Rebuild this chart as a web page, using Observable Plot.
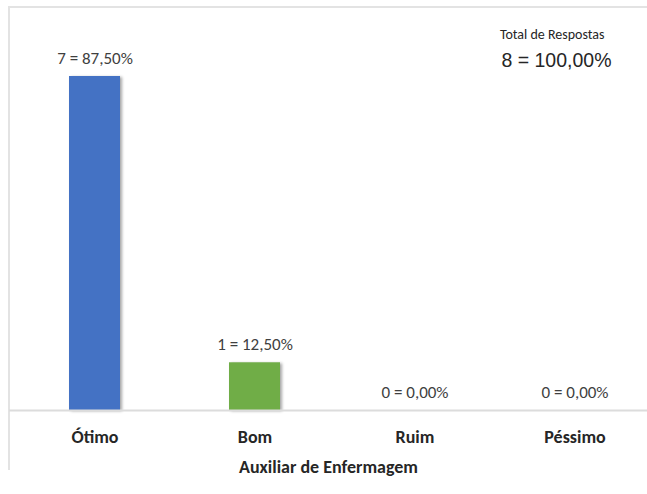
<!DOCTYPE html>
<html>
<head>
<meta charset="utf-8">
<script src="https://cdn.jsdelivr.net/npm/d3@7"></script>
<script src="https://cdn.jsdelivr.net/npm/@observablehq/plot@0.6"></script>
<style>
  html, body { margin: 0; padding: 0; background: #fff; }
  #wrap { position: relative; width: 647px; height: 494px; overflow: hidden; }
  #border { position: absolute; left: 8px; top: 6px; width: 660px; height: 464px;
            border-top: 2px solid #e3e3e3; border-left: 2px solid #e3e3e3; box-sizing: border-box; }
  #chart { position: absolute; left: 0; top: 0; }
</style>
</head>
<body>
<div id="wrap">
  <div id="border"></div>
  <div id="chart"></div>
</div>
<script>
const categories = ["Ótimo", "Bom", "Ruim", "Péssimo"];
const counts = [7, 1, 0, 0];
const colors = ["#4472C4", "#70AD47", "#A5A5A5", "#FFC000"];
const axisTitle = "Auxiliar de Enfermagem";
const totalTitle = "Total de Respostas";

const total = d3.sum(counts);
const fmtPct = v => (v / total * 100).toFixed(2).replace(".", ",") + "%";
const data = categories.map((c, i) => ({cat: c, n: counts[i], label: `${counts[i]} = ${fmtPct(counts[i])}`}));
const totalLabel = `${total} = ${fmtPct(total)}`;

const font = "Carlito, Calibri, Lato, sans-serif";

const plot = Plot.plot({
  width: 647,
  height: 494,
  marginTop: 0,
  marginLeft: 9,
  marginRight: 0,
  marginBottom: 84,
  style: {fontFamily: font, background: "transparent", overflow: "visible"},
  x: {domain: categories, range: [14, 656], paddingInner: 0.68, paddingOuter: 0.34, label: null},
  y: {domain: [0, 7], range: [410, 76], axis: null},
  color: {domain: categories, range: colors},
  marks: [
    Plot.barY(data, {x: "cat", y: "n", fill: "cat"}),
    Plot.ruleY([0], {stroke: "#dcdcdc", strokeWidth: 2}),
    Plot.text(data, {x: "cat", y: "n", text: "label", dy: -18, lineAnchor: "middle",
      fontSize: 17, fill: "#404040", fontFamily: font}),
    Plot.axisX({anchor: "bottom", tickSize: 0, tickPadding: 20, fontSize: 18, fontWeight: "bold",
      fill: "#262626", label: null}),
    Plot.text([axisTitle], {frameAnchor: "bottom", dy: 57, lineAnchor: "middle",
      fontSize: 18, fontWeight: "bold", fill: "#262626"}),
    Plot.text([totalTitle], {frameAnchor: "top-right", dx: -43, dy: 34, textAnchor: "end",
      lineAnchor: "middle", fontSize: 14, fill: "#262626"}),
    Plot.text([totalLabel], {frameAnchor: "top-right", dx: -36, dy: 60, textAnchor: "end",
      lineAnchor: "middle", fontSize: 19.5, fill: "#262626", fontFamily: "'Liberation Sans', Arial, sans-serif"})
  ]
});
plot.querySelectorAll('g[aria-label="bar"] rect').forEach(r => {
  r.style.filter = "drop-shadow(2px 1px 1.5px rgba(0,0,0,0.35))";
});
document.getElementById("chart").appendChild(plot);
</script>
</body>
</html>
